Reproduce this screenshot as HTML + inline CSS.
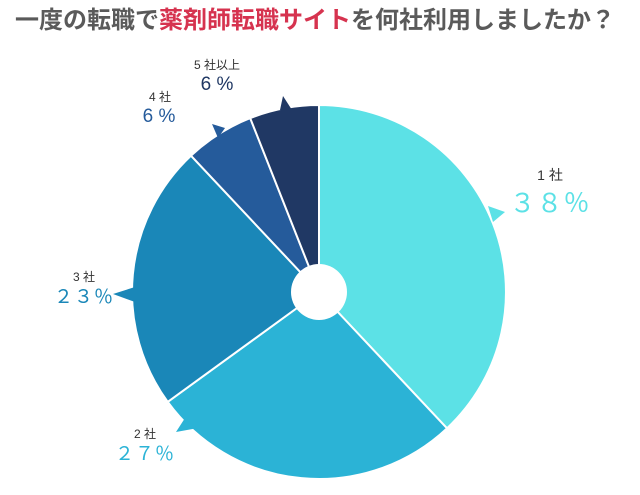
<!DOCTYPE html>
<html><head><meta charset="utf-8"><style>
body{margin:0;background:#fff;width:640px;height:490px;overflow:hidden;font-family:"Liberation Sans","Noto Sans CJK JP",sans-serif}
</style></head><body>
<svg width="640" height="490" xmlns="http://www.w3.org/2000/svg" font-family="Liberation Sans, Noto Sans CJK JP, sans-serif">
<text x="315" y="28" text-anchor="middle" font-size="24" font-weight="bold" fill="#5a5a5a">一度の転職で<tspan fill="#d6334f">薬剤師転職サイト</tspan>を何社利用しましたか？</text>
<g stroke="#fff" stroke-width="2">
<path d="M319,292 L319,105 A187,187 0 0 1 447,428.3 Z" fill="#5ce1e6"/>
<path d="M319,292 L447,428.3 A187,187 0 0 1 167.7,401.9 Z" fill="#2bb3d6"/>
<path d="M319,292 L167.7,401.9 A187,187 0 0 1 191,155.7 Z" fill="#1a87b8"/>
<path d="M319,292 L191,155.7 A187,187 0 0 1 250.2,118.1 Z" fill="#255b9b"/>
<path d="M319,292 L250.2,118.1 A187,187 0 0 1 319,105 Z" fill="#203864"/>
</g>
<circle cx="319" cy="292" r="28" fill="#fff"/>
<polygon points="488,206 505,212 493,222" fill="#5ce1e6"/>
<polygon points="113,294 135,287 135,302" fill="#1a87b8"/>
<polygon points="176,432 185,418 198,428" fill="#2bb3d6"/>
<polygon points="212,124 225,128 218,138" fill="#255b9b"/>
<polygon points="283,96 280,110 292,110" fill="#203864"/>
<text x="550" y="180" text-anchor="middle" font-size="14" fill="#333">1 社</text>
<text x="550" y="212" text-anchor="middle" font-size="26" fill="#5ce1e6" letter-spacing="1">３８％</text>
<text x="84" y="281" text-anchor="middle" font-size="12" fill="#333">3 社</text>
<text x="84" y="303" text-anchor="middle" font-size="19" fill="#1a87b8" letter-spacing="1">２３％</text>
<text x="145" y="438" text-anchor="middle" font-size="12" fill="#333">2 社</text>
<text x="145" y="460" text-anchor="middle" font-size="19" fill="#2bb3d6" letter-spacing="1">２７％</text>
<text x="160" y="101" text-anchor="middle" font-size="12" fill="#333">4 社</text>
<text x="159" y="122" text-anchor="middle" font-size="19" fill="#255b9b">6 %</text>
<text x="217" y="69" text-anchor="middle" font-size="12" fill="#333">5 社以上</text>
<text x="217" y="90" text-anchor="middle" font-size="19" fill="#203864">6 %</text>
</svg>
</body></html>
